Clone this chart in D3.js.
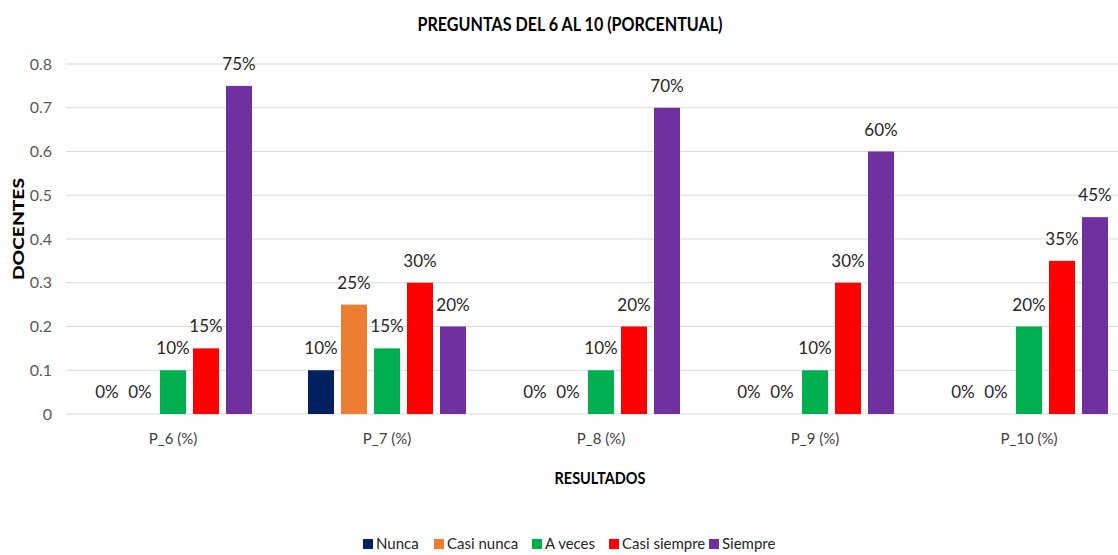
<!DOCTYPE html>
<html><head><meta charset="utf-8">
<script src="https://cdn.jsdelivr.net/npm/d3@7"></script>
<style>body{margin:0;background:#fff}svg{display:block}svg text{font-family:Lato,"Open Sans",sans-serif}</style>
</head><body><svg id="c" width="1118" height="555"></svg>
<script>
const categories = ["P_6 (%)", "P_7 (%)", "P_8 (%)", "P_9 (%)", "P_10 (%)"];
const seriesNames = ["Nunca", "Casi nunca", "A veces", "Casi siempre", "Siempre"];
const nunca       = [0, 0.10, 0, 0, 0];
const casiNunca   = [0, 0.25, 0, 0, 0];
const aVeces      = [0.10, 0.15, 0.10, 0.10, 0.20];
const casiSiempre = [0.15, 0.30, 0.20, 0.30, 0.35];
const siempre     = [0.75, 0.20, 0.70, 0.60, 0.45];
const yTicks = [0, 0.1, 0.2, 0.3, 0.4, 0.5, 0.6, 0.7, 0.8];
const colors = ["#002060", "#ED7D31", "#00B050", "#FF0000", "#7030A0"];
const series = [nunca, casiNunca, aVeces, casiSiempre, siempre];

const svg = d3.select("#c");
const x = d3.scaleBand().domain(categories).range([66, 1136]);
const groupW = 158;
const xs = d3.scaleBand().domain(seriesNames).range([0, groupW]).paddingInner(7/33);
const y = d3.scaleLinear().domain([0, 0.8]).range([414, 64]);

// gridlines
svg.append("g").selectAll("line").data(yTicks).join("line")
  .attr("x1", 66).attr("x2", 1118).attr("y1", d => y(d)).attr("y2", d => y(d))
  .attr("stroke", "#d9d9d9").attr("stroke-width", 1.2);

// y axis
const ya = svg.append("g").attr("transform", "translate(60,0)")
  .call(d3.axisLeft(y).tickValues(yTicks).tickSize(0).tickPadding(8).tickFormat(d => d === 0 ? "0" : d3.format(".1f")(d)));
ya.select(".domain").remove();
ya.selectAll("text").attr("font-size", 16).attr("fill", "#595959").style("font-family", "Lato,sans-serif");

// x axis
const xa = svg.append("g").attr("transform", "translate(0,414)")
  .call(d3.axisBottom(x).tickSize(0).tickPadding(19));
xa.select(".domain").remove();
xa.selectAll("text").attr("font-size", 15).attr("fill", "#404040").style("font-family", "Lato,sans-serif");

// bars
const groups = svg.append("g").selectAll("g").data(categories).join("g")
  .attr("transform", d => `translate(${x(d) + (x.bandwidth() - groupW) / 2},0)`);
groups.each(function(cat, ci) {
  const g = d3.select(this);
  seriesNames.forEach((s, si) => {
    const v = series[si][ci];
    g.append("rect").attr("x", xs(s)).attr("width", xs.bandwidth())
      .attr("y", y(v)).attr("height", y(0) - y(v)).attr("fill", colors[si]);
    g.append("text").attr("x", xs(s) + xs.bandwidth() / 2).attr("y", y(v) - 16)
      .attr("text-anchor", "middle").attr("font-size", 17).attr("fill", "#262626")
      .text(d3.format(".0%")(v));
  });
});

// title
svg.append("text").attr("x", 570).attr("y", 31).attr("text-anchor", "middle")
  .attr("font-size", 19).attr("font-weight", "bold").attr("fill", "#000")
  .attr("textLength", 305).attr("lengthAdjust", "spacingAndGlyphs")
  .text("PREGUNTAS DEL 6 AL 10 (PORCENTUAL)");
// axis titles
svg.append("text").attr("transform", "translate(24,229) rotate(-90)").attr("text-anchor", "middle")
  .attr("font-size", 15).attr("font-weight", "900").attr("fill", "#000")
  .attr("textLength", 102).attr("lengthAdjust", "spacingAndGlyphs")
  .text("DOCENTES");
svg.append("text").attr("x", 600).attr("y", 484).attr("text-anchor", "middle")
  .attr("font-size", 17).attr("font-weight", "bold").attr("fill", "#000")
  .attr("textLength", 91).attr("lengthAdjust", "spacingAndGlyphs")
  .text("RESULTADOS");

// legend
const legendX = [363, 434, 532, 609, 709];
const lg = svg.append("g").selectAll("g").data(seriesNames).join("g")
  .attr("transform", (d, i) => `translate(${legendX[i]},539)`);
lg.append("rect").attr("width", 10).attr("height", 10).attr("fill", (d, i) => colors[i]);
lg.append("text").attr("x", 13).attr("y", 10).attr("font-size", 15).attr("fill", "#262626").text(d => d);
</script></body></html>
